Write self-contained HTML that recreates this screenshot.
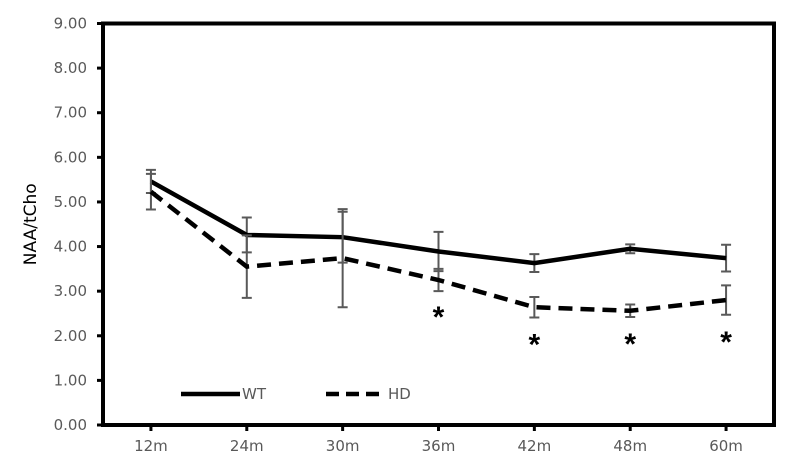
<!DOCTYPE html>
<html><head><meta charset="utf-8"><style>
body{margin:0;background:#fff;}
svg{display:block;font-family:"DejaVu Sans","Liberation Sans",sans-serif;}
</style></head><body>
<svg id="chart" width="799" height="464"></svg>
<script>
const categories=["12m","24m","30m","36m","42m","48m","60m"];
const wtValues=[5.46,4.26,4.21,3.89,3.63,3.95,3.74];
const wtErrors=[0.26,0.39,0.57,0.44,0.2,0.1,0.3];
const hdValues=[5.23,3.55,3.74,3.25,2.64,2.56,2.80];
const hdErrors=[0.4,0.7,1.1,0.25,0.23,0.14,0.33];
const significant=[false,false,false,true,true,true,true];
const yTicks=[0,1,2,3,4,5,6,7,8,9];
const NS="http://www.w3.org/2000/svg";
const svg=document.getElementById('chart');
const L=103,R=774,T=23.5,B=425,yMax=9;
const band=(R-L)/categories.length;
const xs=i=>L+band*(i+0.5);
const ys=v=>B-(v/yMax)*(B-T);
function mk(tag,attrs,parent){const e=document.createElementNS(NS,tag);for(const k in attrs)e.setAttribute(k,attrs[k]);(parent||svg).appendChild(e);return e;}
let ax=mk('path',{d:`M${L},${T} H${R} V${B} H${L} Z`,fill:'none',stroke:'#000','stroke-width':4});


yTicks.forEach(v=>{
  const y=ys(v);
  let t=mk('line',{x1:L-6,x2:L,y1:y,y2:y,stroke:'#000','stroke-width':3});
  
  
  let tx=mk('text',{x:L-16,y:y+5,'text-anchor':'end','font-size':15,fill:'#595959'});
  tx.textContent=v.toFixed(2);
  
  
});
categories.forEach((c,i)=>{
  const x=xs(i);
  let t=mk('line',{x1:x,x2:x,y1:B,y2:B+6,stroke:'#000','stroke-width':3});
  
  
  let tx=mk('text',{x:x,y:B+26,'text-anchor':'middle','font-size':15,fill:'#595959'});
  tx.textContent=c;
  
  
});
let yl=mk('text',{x:0,y:0,transform:`translate(36,${(T+B)/2}) rotate(-90)`,'text-anchor':'middle','font-size':17,fill:'#000'});
yl.textContent='NAA/tCho';


function series(vals,errs,dash,name){
  vals.forEach((v,i)=>{
    const x=xs(i);
    let g=mk('path',{d:`M${x},${ys(v+errs[i])}V${ys(v-errs[i])}M${x-5},${ys(v+errs[i])}h10M${x-5},${ys(v-errs[i])}h10`,stroke:'#595959','stroke-width':2,fill:'none'});
    
    
  });
  const d=vals.map((v,i)=>(i?'L':'M')+xs(i)+','+ys(v)).join('');
  let p=mk('path',{d:d,fill:'none',stroke:'#000','stroke-width':4.5,'stroke-dasharray':dash||'none'});
  
  
}
series(wtValues,wtErrors,null,'wt');
series(hdValues,hdErrors,'14,8','hd');
significant.forEach((s,i)=>{
  if(!s)return;
  let a=mk('text',{x:xs(i),y:ys(hdValues[i]-hdErrors[i])+(i===3?36:37),'text-anchor':'middle','font-size':30,'font-weight':'bold',fill:'#000','font-family':'Liberation Sans'});
  a.textContent='*';
  
  
});
let l1=mk('line',{x1:181,x2:240,y1:394,y2:394,stroke:'#000','stroke-width':4.5});


let t1=mk('text',{x:242,y:399,'font-size':15,fill:'#595959'});t1.textContent='WT';


let l2=mk('line',{x1:326,x2:385,y1:394,y2:394,stroke:'#000','stroke-width':4.5,'stroke-dasharray':'13,7'});


let t2=mk('text',{x:388,y:399,'font-size':15,fill:'#595959'});t2.textContent='HD';


</script>
</body></html>
